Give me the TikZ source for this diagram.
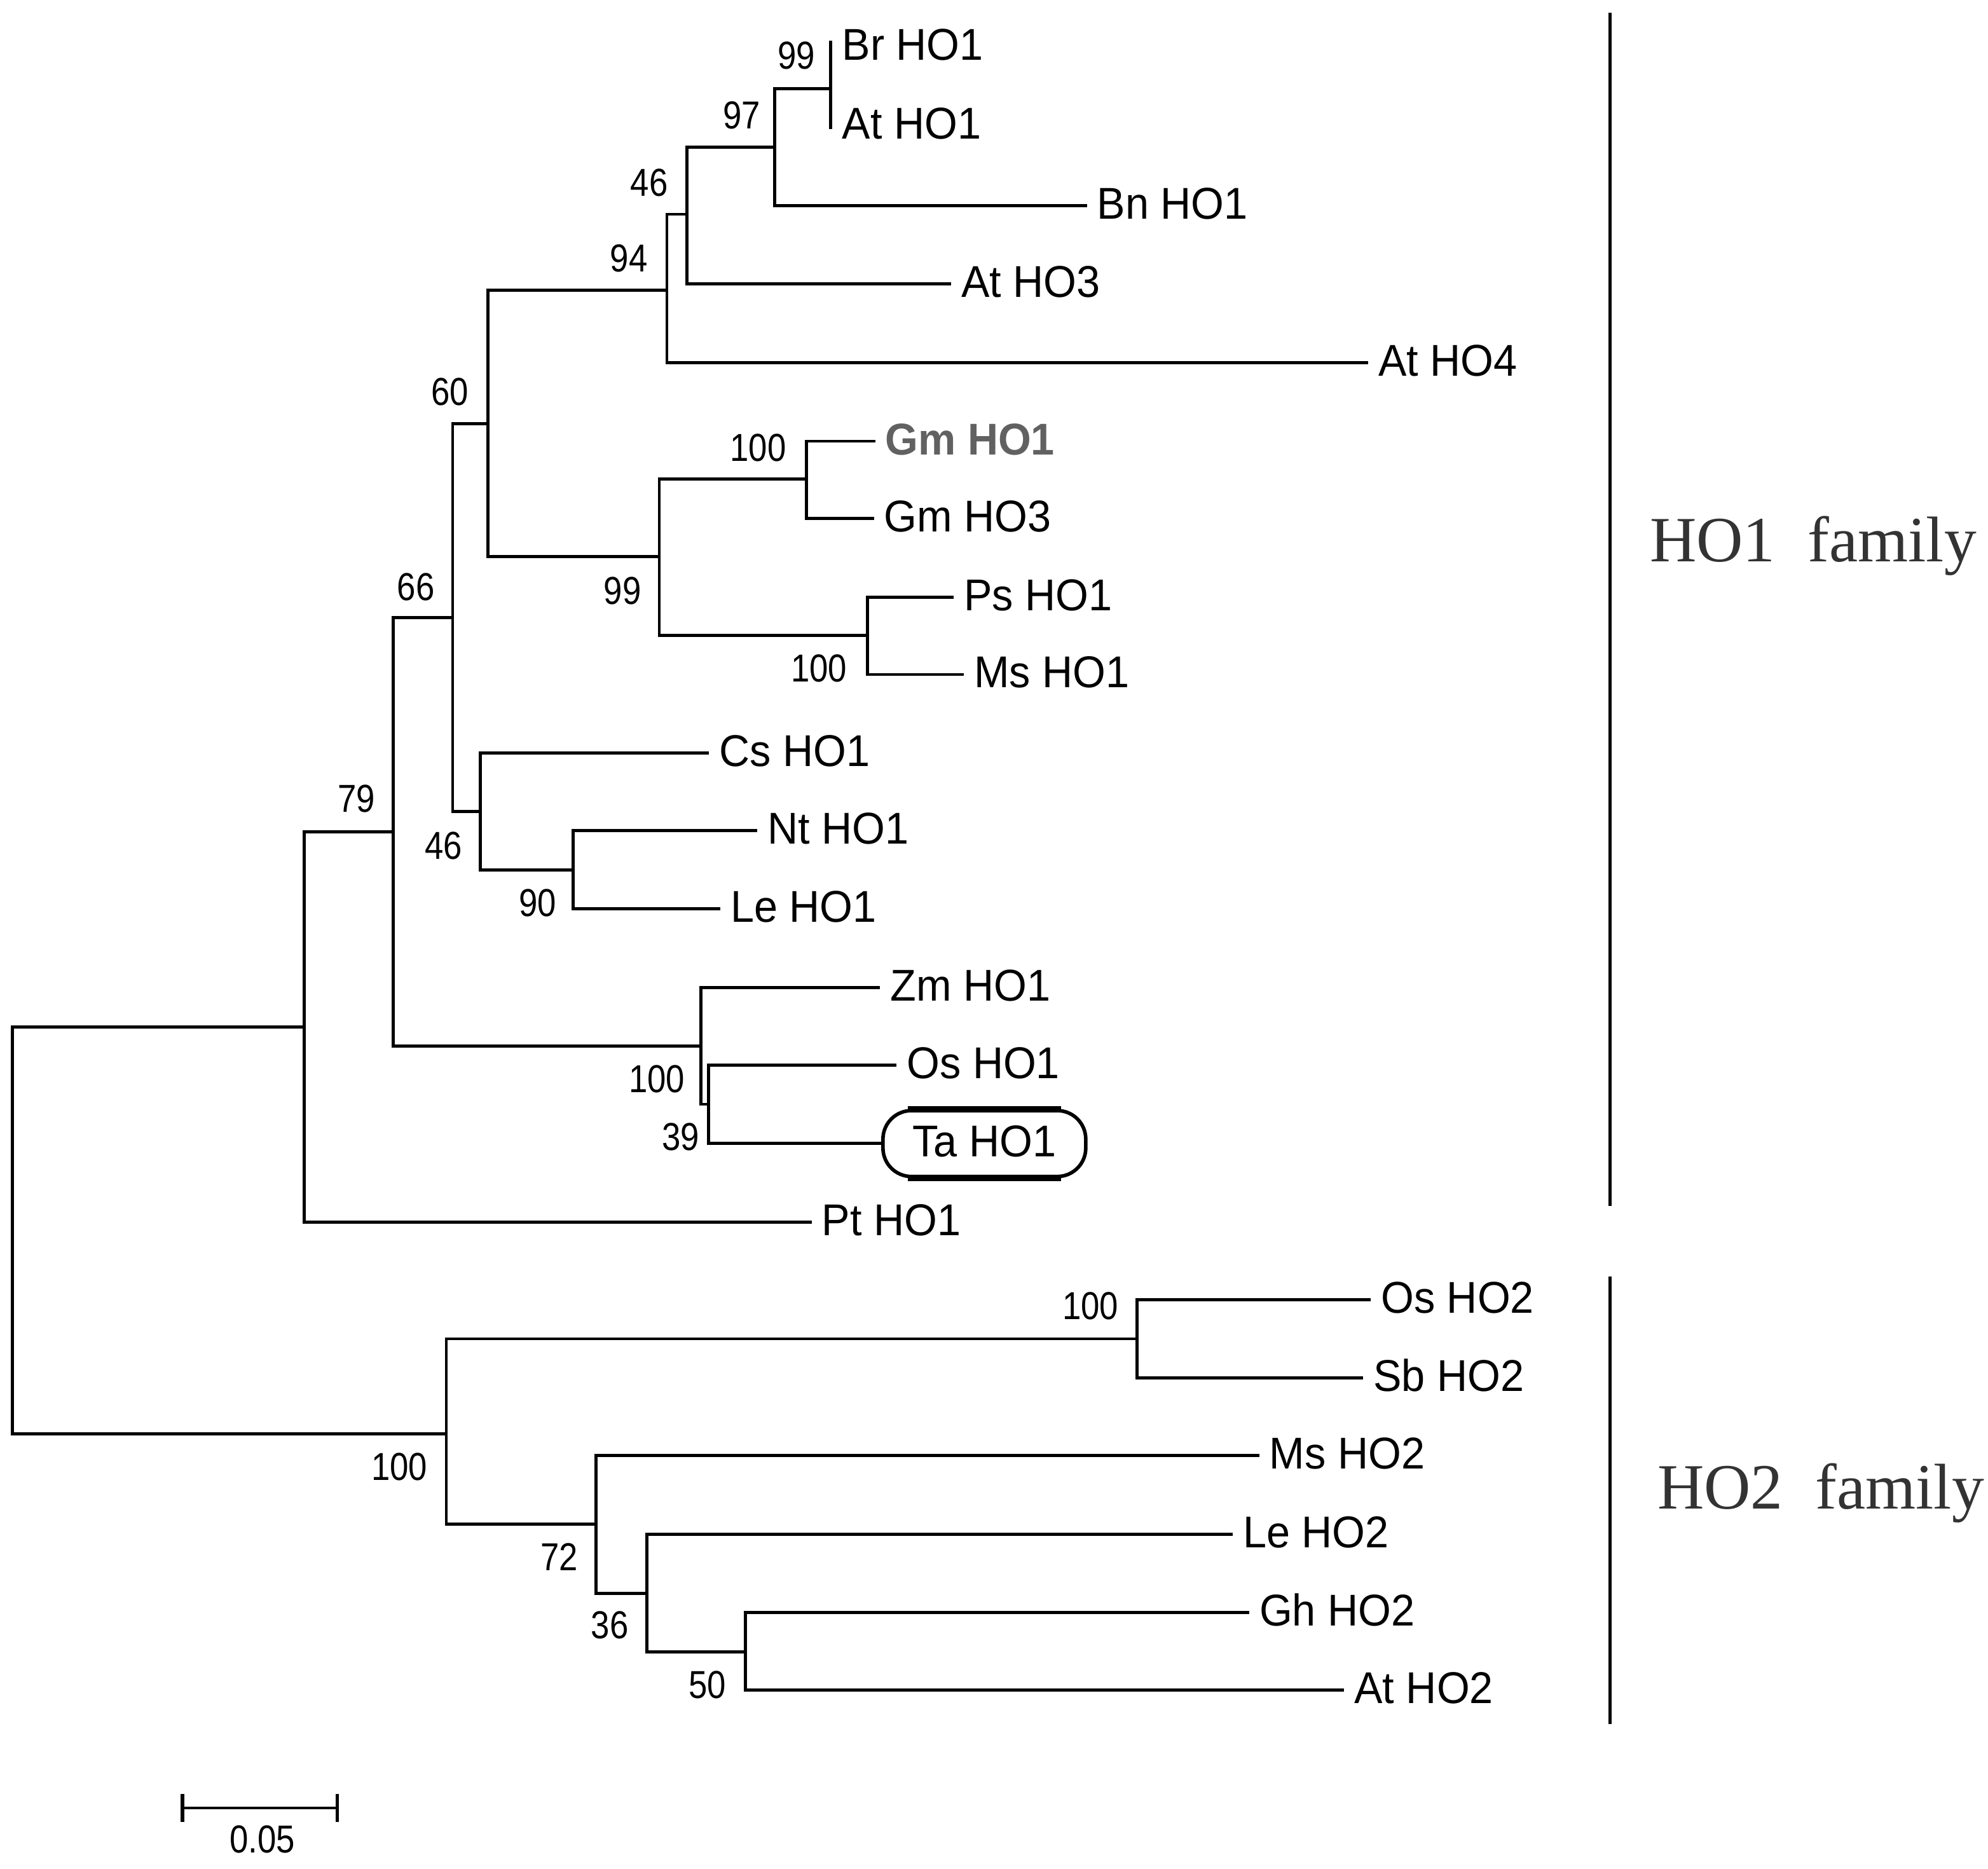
\documentclass[tikz,border=0pt]{standalone}
\usepackage{fontspec}
\setmainfont{Liberation Sans}
\newfontfamily\leaffont[FakeStretch=0.95]{Liberation Sans}
\newfontfamily\bsfont[FakeStretch=0.86]{Liberation Sans}
\newfontfamily\famfont{Liberation Serif}
\begin{document}
\begin{tikzpicture}[x=0.02cm,y=-0.02cm,
  br/.style={line width=1.4pt, line cap=rect},
  leaf/.style={anchor=west, inner xsep=0.18cm, inner ysep=0pt, text height=14.4pt, text depth=2.4pt, font=\leaffont\fontsize{20}{24}\selectfont},
  boot/.style={inner sep=0pt, font=\bsfont\fontsize{17.5}{20}\selectfont},
  fam/.style={anchor=base west, inner sep=0pt, text=black!80, font=\famfont\fontsize{29}{34}\selectfont},
  famline/.style={line width=1.3pt}]
\useasboundingbox (0,0) rectangle (1568,1474);
% leaves
\node[leaf] (Br) at (655,37) {Br HO1};
\node[leaf] (AtA) at (655,99) {At HO1};
\node[leaf] (Bn) at (856,162) {Bn HO1};
\node[leaf] (AtC) at (749,224) {At HO3};
\node[leaf] (AtD) at (1078,286) {At HO4};
\node[leaf, text=black!62, font=\leaffont\bfseries\fontsize{20}{24}\selectfont] (GmA) at (689,348) {Gm HO1};
\node[leaf] (GmC) at (688,409) {Gm HO3};
\node[leaf] (Ps) at (751,471) {Ps HO1};
\node[leaf] (MsA) at (759,532) {Ms HO1};
\node[leaf] (Cs) at (558,594) {Cs HO1};
\node[leaf] (Nt) at (596,655) {Nt HO1};
\node[leaf] (LeA) at (567,717) {Le HO1};
\node[leaf] (Zm) at (693,779) {Zm HO1};
\node[leaf] (OsA) at (706,840) {Os HO1};
\node[leaf, draw, line width=1.6pt, rounded corners=0.45cm, minimum width=3.2cm, minimum height=1.04cm, inner xsep=0pt] (Ta) at (695,902) {Ta HO1};
\draw[line width=2.6pt] ([xshift=0.42cm]Ta.north west) -- ([xshift=-0.42cm]Ta.north east);
\draw[line width=2.6pt] ([xshift=0.42cm]Ta.south west) -- ([xshift=-0.42cm]Ta.south east);
\node[leaf] (Pt) at (639,964) {Pt HO1};
\node[leaf] (OsB) at (1080,1025) {Os HO2};
\node[leaf] (Sb) at (1074,1087) {Sb HO2};
\node[leaf] (MsB) at (992,1148) {Ms HO2};
\node[leaf] (LeB) at (971,1210) {Le HO2};
\node[leaf] (Gh) at (984,1272) {Gh HO2};
\node[leaf] (AtB) at (1059,1333) {At HO2};
% internal nodes
\coordinate (root) at (10,970);
\coordinate (nA) at (240,810);
\coordinate (n79) at (310,656);
\coordinate (n66) at (357,487);
\coordinate (n60) at (385,334);
\coordinate (n94) at (526,229);
\coordinate (n46a) at (542,169);
\coordinate (n97) at (611,116);
\coordinate (n99) at (655,70);
\coordinate (n99b) at (520,439);
\coordinate (n100a) at (636,378);
\coordinate (n100b) at (684,501);
\coordinate (n46b) at (379,640);
\coordinate (n90) at (452,686);
\coordinate (n100c) at (553,825);
\coordinate (n39) at (559,871);
\coordinate (n100d) at (352,1131);
\coordinate (n100e) at (897,1056);
\coordinate (n72) at (470,1202);
\coordinate (n36) at (510,1257);
\coordinate (n50) at (588,1303);
% branches
\draw[br] (root) |- (nA);
\draw[br] (root) |- (n100d);
\draw[br] (nA) |- (n79);
\draw[br] (nA) |- (Pt.west);
\draw[br] (n79) |- (n66);
\draw[br] (n79) |- (n100c);
\draw[br] (n66) |- (n60);
\draw[br] (n66) |- (n46b);
\draw[br] (n60) |- (n94);
\draw[br] (n60) |- (n99b);
\draw[br] (n94) |- (n46a);
\draw[br] (n94) |- (AtD.west);
\draw[br] (n46a) |- (n97);
\draw[br] (n46a) |- (AtC.west);
\draw[br] (n97) |- (n99);
\draw[br] (n97) |- (Bn.west);
\draw[br] (n99) -- ([yshift=2pt]Br.west);
\draw[br] (n99) -- ([yshift=-1pt]AtA.west);
\draw[br] (n99b) |- (n100a);
\draw[br] (n99b) |- (n100b);
\draw[br] (n100a) |- (GmA.west);
\draw[br] (n100a) |- (GmC.west);
\draw[br] (n100b) |- (Ps.west);
\draw[br] (n100b) |- (MsA.west);
\draw[br] (n46b) |- (Cs.west);
\draw[br] (n46b) |- (n90);
\draw[br] (n90) |- (Nt.west);
\draw[br] (n90) |- (LeA.west);
\draw[br] (n100c) |- (Zm.west);
\draw[br] (n100c) |- (n39);
\draw[br] (n39) |- (OsA.west);
\draw[br] (n39) |- (Ta.west);
\draw[br] (n100d) |- (n100e);
\draw[br] (n100d) |- (n72);
\draw[br] (n100e) |- (OsB.west);
\draw[br] (n100e) |- (Sb.west);
\draw[br] (n72) |- (MsB.west);
\draw[br] (n72) |- (n36);
\draw[br] (n36) |- (LeB.west);
\draw[br] (n36) |- (n50);
\draw[br] (n50) |- (Gh.west);
\draw[br] (n50) |- (AtB.west);
% bootstrap values
\node[boot] (b1) at (628,44) {99};
\node[boot] (b2) at (585,91) {97};
\node[boot] (b3) at (512,144) {46};
\node[boot] (b4) at (496,204) {94};
\node[boot] (b5) at (355,309) {60};
\node[boot] (b6) at (598,353) {100};
\node[boot] (b7) at (491,466) {99};
\node[boot] (b8) at (646,527) {100};
\node[boot] (b9) at (328,463) {66};
\node[boot] (b10) at (350,667) {46};
\node[boot] (b11) at (424,712) {90};
\node[boot] (b12) at (281,630) {79};
\node[boot] (b13) at (518,851) {100};
\node[boot] (b14) at (537,897) {39};
\node[boot] (b15) at (315,1157) {100};
\node[boot] (b16) at (860,1030) {100};
\node[boot] (b17) at (441,1228) {72};
\node[boot] (b18) at (481,1282) {36};
\node[boot] (b19) at (558,1329) {50};
% family bars
\coordinate (fa1) at (1270,10);
\coordinate (fa2) at (1270,951);
\coordinate (fb1) at (1270,1007);
\coordinate (fb2) at (1270,1360);
\draw[famline] (fa1) -- (fa2);
\draw[famline] (fb1) -- (fb2);
\node[fam] (famA) at (1301,443) {HO1\ \ family};
\node[fam] (famB) at (1307,1190) {HO2\ \ family};
% scale bar
\coordinate (s1) at (144,1426);
\coordinate (s2) at (266,1426);
\draw[line width=1.3pt] (s1) -- (s2);
\draw[line width=1.6pt] (s1) ++(0,-11) -- ++(0,22);
\draw[line width=1.6pt] (s2) ++(0,-11) -- ++(0,22);
\node[boot] (sl) at (207,1451) {0.05};
\end{tikzpicture}
\end{document}
